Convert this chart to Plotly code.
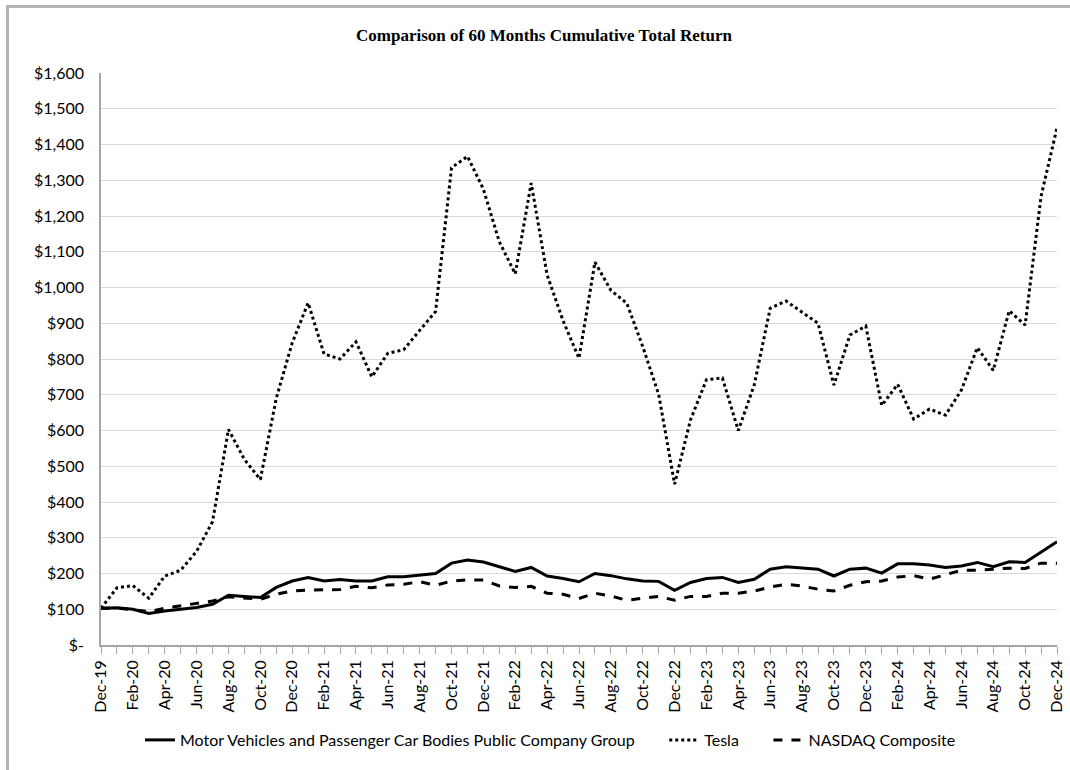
import plotly.graph_objects as go

months = ["Dec-19","Jan-20","Feb-20","Mar-20","Apr-20","May-20","Jun-20","Jul-20","Aug-20","Sep-20","Oct-20","Nov-20",
          "Dec-20","Jan-21","Feb-21","Mar-21","Apr-21","May-21","Jun-21","Jul-21","Aug-21","Sep-21","Oct-21","Nov-21",
          "Dec-21","Jan-22","Feb-22","Mar-22","Apr-22","May-22","Jun-22","Jul-22","Aug-22","Sep-22","Oct-22","Nov-22",
          "Dec-22","Jan-23","Feb-23","Mar-23","Apr-23","May-23","Jun-23","Jul-23","Aug-23","Sep-23","Oct-23","Nov-23",
          "Dec-23","Jan-24","Feb-24","Mar-24","Apr-24","May-24","Jun-24","Jul-24","Aug-24","Sep-24","Oct-24","Nov-24",
          "Dec-24"]

motor_vehicles = [103, 104, 100, 88, 95, 100, 105, 114, 139, 136, 133, 161,
                  179, 189, 179, 183, 179, 179, 191, 191, 195, 200, 229, 238,
                  232, 219, 206, 217, 193, 186, 177, 200, 194, 185, 179, 178,
                  153, 175, 186, 189, 175, 184, 212, 219, 215, 212, 193, 212,
                  215, 201, 227, 227, 224, 217, 221, 231, 219, 233, 231, 261,
                  289]

tesla = [103, 160, 166, 131, 193, 209, 262, 345, 603, 519, 463, 690,
         845, 957, 814, 800, 848, 750, 816, 826, 880, 933, 1335, 1367,
         1275, 1128, 1038, 1292, 1035, 907, 802, 1071, 992, 956, 835, 701,
         450, 630, 742, 747, 600, 728, 942, 962, 931, 900, 727, 867,
         892, 670, 729, 632, 660, 643, 713, 832, 768, 935, 895, 1255,
         1447]

nasdaq = [103, 103, 99, 93, 103, 109, 116, 123, 135, 131, 128, 142,
          151, 154, 154, 155, 164, 160, 168, 170, 177, 167, 179, 182,
          182, 165, 161, 164, 145, 142, 130, 145, 137, 125, 131, 136,
          125, 136, 136, 145, 145, 151, 162, 170, 165, 156, 151, 167,
          177, 179, 190, 194, 184, 196, 209, 209, 211, 215, 214, 229,
          229]

series_names = ["Motor Vehicles and Passenger Car Bodies Public Company Group", "Tesla", "NASDAQ Composite"]

y_ticks = [0, 100, 200, 300, 400, 500, 600, 700, 800, 900, 1000, 1100, 1200, 1300, 1400, 1500, 1600]
y_tick_text = ["$-", "$100", "$200", "$300", "$400", "$500", "$600", "$700", "$800", "$900",
               "$1,000", "$1,100", "$1,200", "$1,300", "$1,400", "$1,500", "$1,600"]

x_idx = list(range(len(months)))
x_tick_text = [m if i % 2 == 0 else "" for i, m in enumerate(months)]

PAD = "\u00a0" * 6
fig = go.Figure()
fig.add_trace(go.Scatter(x=x_idx, y=motor_vehicles, mode="lines",
                         name=series_names[0] + PAD,
                         line=dict(color="black", width=3, dash="solid")))
fig.add_trace(go.Scatter(x=x_idx, y=tesla, mode="lines", name=series_names[1] + PAD,
                         line=dict(color="black", width=3, dash="dot")))
fig.add_trace(go.Scatter(x=x_idx, y=nasdaq, mode="lines", name=series_names[2],
                         line=dict(color="black", width=3, dash="dash")))

W, H = 1070, 770
L, R, T, B = 101, 13, 73, 125
pw, ph = W - L - R, H - T - B

def px_x(p):
    return (p - L) / pw

def px_y(p):
    return (H - B - p) / ph

FONT = "Lato, Open Sans, sans-serif"

fig.update_layout(
    width=W, height=H,
    margin=dict(l=L, r=R, t=T, b=B, autoexpand=False),
    paper_bgcolor="white", plot_bgcolor="white",
    title=dict(text="<b>Comparison of 60 Months Cumulative Total Return</b>",
               x=px_x(544), xref="paper", xanchor="center", y=1 - 35 / H, yanchor="middle",
               font=dict(family="Liberation Serif", size=17, color="black")),
    font=dict(family=FONT, color="black"),
    showlegend=True,
    legend=dict(orientation="h", x=px_x(140), xanchor="left", y=px_y(740), yanchor="middle",
                font=dict(family=FONT, size=16, color="black"),
                itemwidth=30, bgcolor="rgba(0,0,0,0)", tracegroupgap=0),
    xaxis=dict(range=[0, 60], tickmode="array", tickvals=x_idx, ticktext=x_tick_text,
               tickangle=-90, ticks="outside", ticklen=7, tickcolor="#a6a6a6", tickwidth=1,
               showline=True, linecolor="#a6a6a6", linewidth=1.5, showgrid=False, zeroline=False,
               automargin=False,
               tickfont=dict(family=FONT, size=16, color="black")),
    yaxis=dict(range=[0, 1600], tickmode="array", tickvals=y_ticks, ticktext=y_tick_text,
               showline=True, linecolor="#a6a6a6", linewidth=1.5, ticks="",
               showgrid=True, gridcolor="#d9d9d9", gridwidth=1.3, zeroline=False,
               ticklabelstandoff=12, automargin=False,
               tickfont=dict(family=FONT, size=16, color="black")),
    shapes=[dict(type="rect", xref="paper", yref="paper",
                 x0=px_x(7.5), x1=px_x(1085), y0=px_y(785), y1=px_y(6.5),
                 line=dict(color="#b3b3b3", width=3), fillcolor="rgba(0,0,0,0)", layer="below")],
)

fig.write_html("out.html", config={"displayModeBar": False},
               post_script="document.body.style.margin='0';document.body.style.overflow='hidden';")
